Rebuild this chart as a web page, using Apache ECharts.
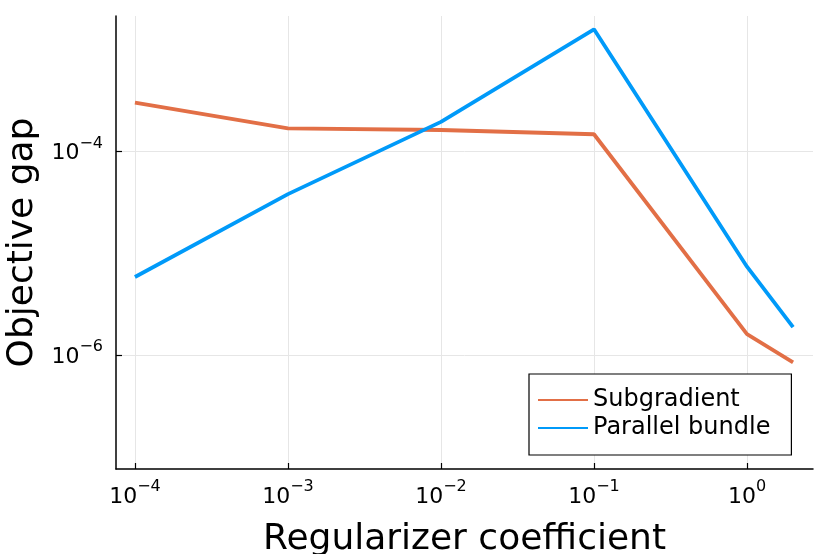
<!DOCTYPE html>
<html>
<head>
<meta charset="utf-8">
<script src="https://cdn.jsdelivr.net/npm/echarts@6/dist/echarts.min.js"></script>
<style>html,body{margin:0;padding:0;background:#fff}#c{width:830px;height:554px}</style>
</head>
<body>
<div id="c"></div>
<script>
const xValues = [1e-4, 1e-3, 1e-2, 1e-1, 1, 2];
const subgradient = [3.02e-4, 1.69e-4, 1.63e-4, 1.48e-4, 1.61e-6, 8.5e-7];
const parallelBundle = [5.85e-6, 3.82e-5, 1.96e-4, 1.59e-3, 7.4e-6, 1.88e-6];
const xTicks = [1e-4, 1e-3, 1e-2, 1e-1, 1];
const yTicks = [1e-6, 1e-4];
const seriesNames = ['Subgradient', 'Parallel bundle'];
const xTitle = 'Regularizer coefficient';
const yTitle = 'Objective gap';

const FONT = 'DejaVu Sans';
function supLabel(v) {
  const e = Math.round(Math.log10(v));
  const s = e < 0 ? '\u2212' + (-e) : String(e);
  return '{b|10}{s|' + s + '}';
}
const rich = {
  b: {fontSize: 22, fontFamily: FONT, color: '#000', lineHeight: 24, height: 20, verticalAlign: 'bottom'},
  s: {fontSize: 16, fontFamily: FONT, color: '#000', lineHeight: 8, height: 8, verticalAlign: 'top'}
};
const gridLine = {show: true, lineStyle: {color: '#e6e6e6', width: 1}};
const axisLine = {show: true, onZero: false, lineStyle: {color: '#000', width: 1.5}};
const tick = (vals) => ({show: true, inside: true, length: 6, customValues: vals, lineStyle: {color: '#000', width: 1.2}});

const chart = echarts.init(document.getElementById('c'), null, {renderer: 'canvas'});
chart.setOption({
  animation: false,
  backgroundColor: '#fff',
  textStyle: {fontFamily: FONT},
  grid: {left: 116, right: 17, top: 16, bottom: 85, containLabel: false, outerBoundsMode: 'none'},
  xAxis: {
    type: 'log', logBase: 10, min: 7.52e-5, max: 2.7,
    axisLine: axisLine, axisTick: tick(xTicks), splitLine: gridLine,
    axisLabel: {customValues: xTicks, formatter: supLabel, rich: rich, margin: 14, showMinLabel: true, showMaxLabel: true},
    name: xTitle, nameLocation: 'middle', nameGap: 53,
    nameTextStyle: {fontSize: 36, fontFamily: FONT, color: '#000'}
  },
  yAxis: {
    type: 'log', logBase: 10, min: 7.6e-8, max: 2.15e-3,
    axisLine: axisLine, axisTick: tick(yTicks), splitLine: gridLine,
    axisLabel: {customValues: yTicks, formatter: supLabel, rich: rich, margin: 13},
    name: yTitle, nameLocation: 'middle', nameGap: 74, nameRotate: 90,
    nameTextStyle: {fontSize: 36, fontFamily: FONT, color: '#000'}
  },
  legend: {
    orient: 'vertical', left: 529, top: 374,
    padding: [14, 21, 15, 9], itemGap: 4, itemWidth: 50, itemHeight: 14,
    borderColor: '#000', borderWidth: 1.2, backgroundColor: '#fff',
    textStyle: {fontSize: 24, fontFamily: FONT, color: '#000'},
    icon: 'path://M0,6 L50,6 L50,8 L0,8 Z',
    data: seriesNames
  },
  series: [
    {name: seriesNames[0], type: 'line', data: xValues.map((x, i) => [x, subgradient[i]]),
     showSymbol: false, symbol: 'none', color: '#e26f46', lineStyle: {width: 3.8, color: '#e26f46'}},
    {name: seriesNames[1], type: 'line', data: xValues.map((x, i) => [x, parallelBundle[i]]),
     showSymbol: false, symbol: 'none', color: '#009af9', lineStyle: {width: 3.8, color: '#009af9'}}
  ]
});
</script>
</body>
</html>
